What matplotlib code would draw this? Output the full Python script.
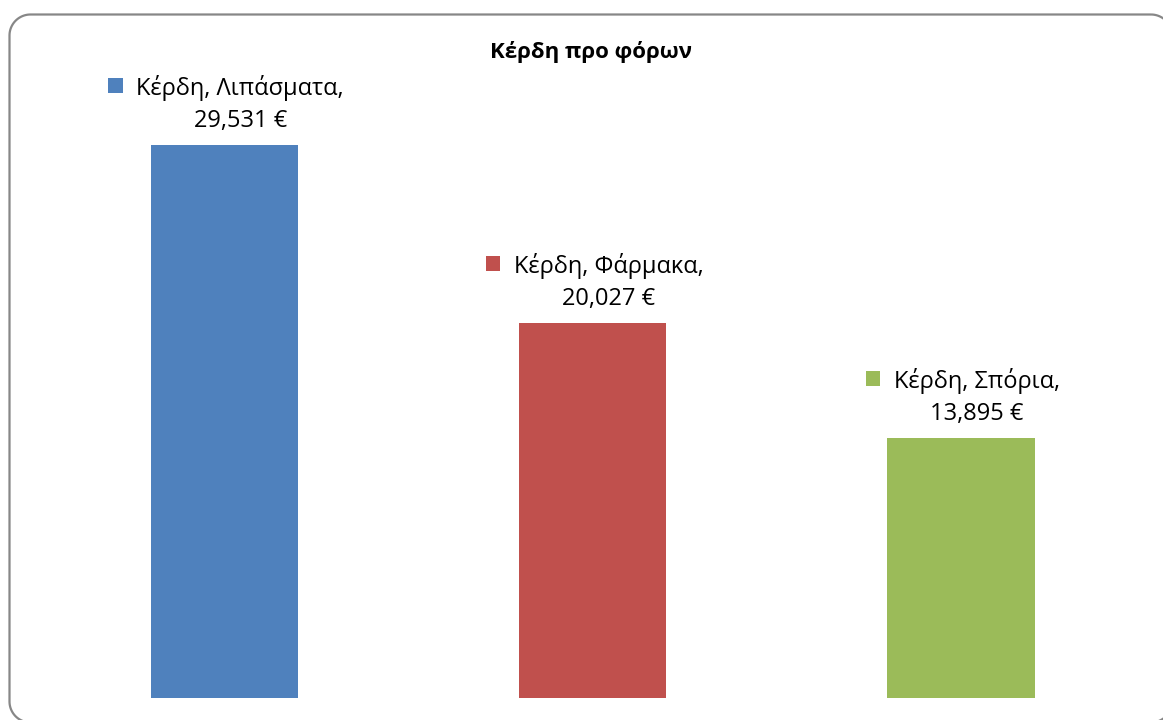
import numpy as np
import matplotlib
matplotlib.use("Agg")
import matplotlib.pyplot as plt
from matplotlib.patches import Rectangle, PathPatch
from matplotlib.path import Path

categories = ["Λιπάσματα", "Φάρμακα", "Σπόρια"]
values = [29531, 20027, 13895]
series_name = "Κέρδη"
colors = ["#4F81BD", "#C0504D", "#9BBB59"]
title = "Κέρδη προ φόρων"

plt.rcParams["font.family"] = ["Open Sans", "DejaVu Sans"]

W, H = 1163, 720
PT = 72 / 100  # points per pixel at dpi 100
fig = plt.figure(figsize=(W / 100, H / 100), dpi=100)

# overlay in pixel coordinates (origin top-left) for the rounded frame
bg = fig.add_axes([0, 0, 1, 1])
bg.set_xlim(0, W)
bg.set_ylim(H, 0)
bg.axis("off")


def rounded_rect(x0, y0, x1, y1, r, n=24):
    pts = []
    corners = [(x1 - r, y0 + r, -90, 0), (x1 - r, y1 - r, 0, 90),
               (x0 + r, y1 - r, 90, 180), (x0 + r, y0 + r, 180, 270)]
    for cx, cy, a0, a1 in corners:
        t = np.radians(np.linspace(a0, a1, n))
        pts.extend(zip(cx + r * np.cos(t), cy + r * np.sin(t)))
    pts.append(pts[0])
    return Path(pts)


bg.add_patch(PathPatch(rounded_rect(9.5, 14.5, 1172, 722.5, 21),
                       fill=False, edgecolor="#878787", linewidth=1.6,
                       clip_on=False))

# plot area: value 0 sits at pixel row 698
ymax = 35000
px_per_unit = 553 / 29531
ax = fig.add_axes([40 / W, (H - 698) / H, (1145 - 40) / W, ymax * px_per_unit / H])
x = range(len(categories))
ax.bar(x, values, width=0.4, color=colors)
ax.set_xlim(-0.5, len(categories) - 0.5)
ax.set_ylim(0, ymax)
ax.axis("off")

fig.text(591 / W, 1 - 58 / H, title, ha="center", va="baseline",
         fontsize=16, fontweight="bold")

fig.canvas.draw()
renderer = fig.canvas.get_renderer()
fs = 17
dx = 16 * PT
for i, (cat, v, c) in enumerate(zip(categories, values, colors)):
    line1 = f"{series_name}, {cat},"
    line2 = f"{v:,} €"
    ax.annotate(line2, xy=(i, v), xytext=(dx, 18 * PT), textcoords="offset points",
                ha="center", va="baseline", fontsize=fs)
    t1 = ax.annotate(line1, xy=(i, v), xytext=(dx, 50 * PT), textcoords="offset points",
                     ha="center", va="baseline", fontsize=fs)
    fig.canvas.draw()
    bb = t1.get_window_extent(renderer)
    base_px = ax.transData.transform((i, v))[1] + 50
    # square legend key to the left of the first line
    sq = 14.5
    fig.patches.append(Rectangle(((bb.x0 - 28) / W, (base_px + 2) / H),
                                 sq / W, sq / H, transform=fig.transFigure,
                                 facecolor=c, edgecolor="none"))

fig.savefig("out.png", dpi=100)
